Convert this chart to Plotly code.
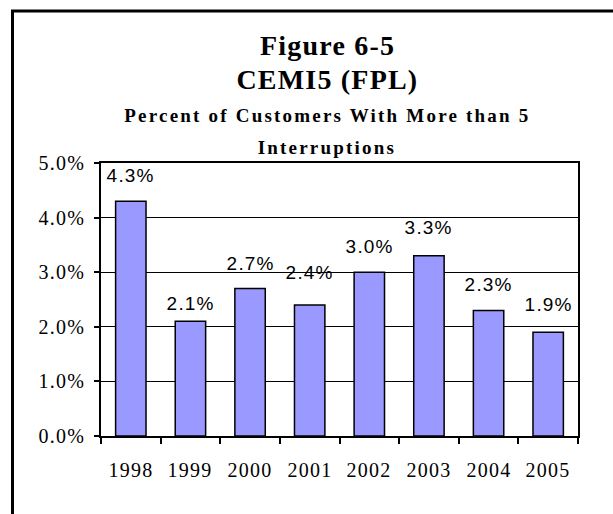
import plotly.graph_objects as go

# ---- data ----
years = ["1998", "1999", "2000", "2001", "2002", "2003", "2004", "2005"]
cemi5_pct = [4.3, 2.1, 2.7, 2.4, 3.0, 3.3, 2.3, 1.9]
y_ticks = [0, 1, 2, 3, 4, 5]
title_lines = ["Figure 6-5", "CEMI5 (FPL)"]
subtitle_lines = ["Percent of Customers With More than 5", "Interruptions"]

# ---- styles / layout (pixels) ----
W, H = 613, 514
ML, MR, MT, MB = 101, 35, 163, 78
PW, PH = W - ML - MR, H - MT - MB
label_shift = [26, 18, 25, 32, 26, 28, 26, 28]


def px(x):
    return (x - ML) / PW


def py(y):
    return (H - MB - y) / PH


SERIF = "Liberation Serif"
SANS = "Liberation Sans"

fig = go.Figure()
fig.add_trace(go.Bar(
    x=years, y=cemi5_pct,
    marker=dict(color="#9999FF", line=dict(color="black", width=1.5)),
    hoverinfo="skip",
))

annotations = []
# value labels above the bars (x given as category index)
for i, (v, s) in enumerate(zip(cemi5_pct, label_shift)):
    annotations.append(dict(
        x=i, y=v, xref="x", yref="y", text=f"{v:.1f}%", showarrow=False,
        yshift=s, yanchor="middle", xanchor="center",
        font=dict(family=SANS, size=19, color="black"),
    ))

# category labels below the axis
for i, yr in enumerate(years):
    annotations.append(dict(
        x=i, y=0, xref="x", yref="paper", text=yr, showarrow=False,
        yshift=-34, yanchor="middle", xanchor="center",
        font=dict(family=SERIF, size=20, color="black"),
    ))

# value-axis labels
for t in y_ticks:
    annotations.append(dict(
        x=px(85), y=t, xref="paper", yref="y", text=f"{t:.1f}%",
        showarrow=False, xanchor="right", yanchor="middle",
        font=dict(family=SERIF, size=20, color="black"),
    ))

title_y = [46, 80]
for t, yy in zip(title_lines, title_y):
    annotations.append(dict(
        x=px(327), y=py(yy), xref="paper", yref="paper", text=f"<b>{t}</b>",
        showarrow=False, xanchor="center", yanchor="middle",
        font=dict(family=SERIF, size=28, color="black"),
    ))
sub_y = [116, 147]
for t, yy in zip(subtitle_lines, sub_y):
    annotations.append(dict(
        x=px(327), y=py(yy), xref="paper", yref="paper", text=f"<b>{t}</b>",
        showarrow=False, xanchor="center", yanchor="middle",
        font=dict(family=SERIF, size=19, color="black"),
    ))

fig.update_layout(
    width=W, height=H,
    margin=dict(l=ML, r=MR, t=MT, b=MB, pad=0),
    paper_bgcolor="white", plot_bgcolor="white",
    showlegend=False,
    bargap=0.49,
    annotations=annotations,
    shapes=[dict(
        type="rect", xref="paper", yref="paper",
        x0=px(12.5), x1=px(W + 40), y0=py(H + 40), y1=py(11),
        line=dict(color="black", width=3), fillcolor="rgba(0,0,0,0)",
        layer="above",
    )],
    xaxis=dict(
        type="category", range=[-0.5, len(years) - 0.5], autorange=False,
        showline=True, linecolor="black", linewidth=2,
        mirror=True, ticks="outside", tickson="boundaries", ticklen=6,
        tickcolor="black", tickwidth=1.5, showgrid=False,
        showticklabels=False,
    ),
    yaxis=dict(
        range=[0, 5], autorange=False, tickvals=y_ticks,
        showline=True, linecolor="black", linewidth=2, mirror=True,
        ticks="outside", ticklen=5, tickcolor="black", tickwidth=1.5,
        showgrid=True, gridcolor="black", gridwidth=1, zeroline=False,
        showticklabels=False,
    ),
)

post = """
document.body.style.margin='0';
document.body.style.overflow='hidden';
var gd=document.getElementById('{plot_id}');
gd.querySelectorAll('text').forEach(function(t){
  var s=t.textContent||'';
  if(s.indexOf('Percent')===0||s==='Interruptions'){t.style.letterSpacing='2.2px';}
  else {t.style.letterSpacing='1.2px';}
});
"""

fig.write_html("out.html", post_script=post, config={"displayModeBar": False})
